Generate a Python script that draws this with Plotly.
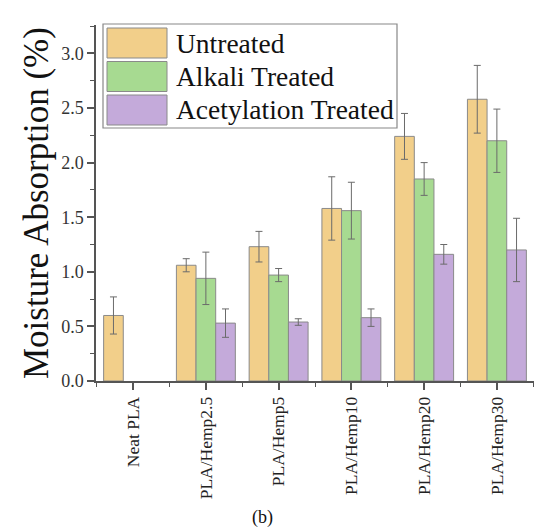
import plotly.graph_objects as go

categories = ["Neat PLA", "PLA/Hemp2.5", "PLA/Hemp5", "PLA/Hemp10", "PLA/Hemp20", "PLA/Hemp30"]
series_names = ["Untreated", "Alkali Treated", "Acetylation Treated"]
untreated = [0.60, 1.06, 1.23, 1.58, 2.24, 2.58]
untreated_err = [0.17, 0.06, 0.14, 0.29, 0.21, 0.31]
alkali = [None, 0.94, 0.97, 1.56, 1.85, 2.20]
alkali_err = [None, 0.24, 0.06, 0.26, 0.15, 0.29]
acetyl = [None, 0.53, 0.54, 0.58, 1.16, 1.20]
acetyl_err = [None, 0.13, 0.03, 0.08, 0.09, 0.29]
colors = ["#F2CF8A", "#A7DA91", "#C4AADA"]
yticks = [0.0, 0.5, 1.0, 1.5, 2.0, 2.5, 3.0]

W, H = 534, 531
L, R, T, B = 96, 534, 25, 381
FONT = "Liberation Serif, Times New Roman, serif"

def px_x(p):
    return (p - L) / (R - L)

def px_y(p):
    return (B - p) / (B - T)

xs = list(range(len(categories)))
fig = go.Figure()
for name, vals, errs, col in zip(series_names, [untreated, alkali, acetyl],
                                 [untreated_err, alkali_err, acetyl_err], colors):
    fig.add_trace(go.Bar(
        x=xs, y=vals, name=name,
        marker=dict(color=col, line=dict(color="#8a8a8a", width=1)),
        error_y=dict(type="data", array=errs, color="#6b6b6b", thickness=1, width=3.5, visible=True),
        showlegend=False,
    ))

fig.update_layout(
    width=W, height=H,
    margin=dict(l=L, r=W - R, t=T, b=H - B, pad=0),
    paper_bgcolor="white", plot_bgcolor="white",
    barmode="group", bargap=0.19, bargroupgap=0,
    font=dict(family=FONT, color="#222"),
)
fig.update_xaxes(
    range=[-0.51, 5.51], showgrid=False, zeroline=False,
    showline=True, linecolor="#555", linewidth=1.5,
    tickmode="array", tickvals=xs, ticktext=categories, tickangle=-90,
    ticks="outside", ticklen=7, tickcolor="#555", tickwidth=1.5,
    tickfont=dict(family=FONT, size=17.5, color="#222"),
    minor=dict(tickmode="linear", tick0=0.5, dtick=1, ticks="outside", ticklen=4, tickcolor="#555", tickwidth=1.2),
)
fig.update_yaxes(
    range=[0, 3.26], showgrid=False, zeroline=False,
    showline=True, linecolor="#555", linewidth=1.5,
    tickmode="array", tickvals=yticks, tickformat=".1f",
    ticks="outside", ticklen=7, tickcolor="#555", tickwidth=1.5,
    tickfont=dict(family=FONT, size=18, color="#333"),
    minor=dict(tickmode="linear", tick0=0, dtick=0.25, ticks="outside", ticklen=4, tickcolor="#555", tickwidth=1.2),
)

# y-axis title
fig.add_annotation(text="Moisture Absorption (%)", xref="paper", yref="paper",
                   x=px_x(36), y=px_y(203), textangle=-90, showarrow=False,
                   xanchor="center", yanchor="middle",
                   font=dict(family=FONT, size=35, color="#111"))
# caption
fig.add_annotation(text="(b)", xref="paper", yref="paper", x=px_x(262), y=px_y(517),
                   showarrow=False, xanchor="center", yanchor="middle",
                   font=dict(family=FONT, size=18, color="#111"))

# custom legend
fig.add_shape(type="rect", xref="paper", yref="paper",
              x0=px_x(103), x1=px_x(397), y0=px_y(128), y1=px_y(24),
              line=dict(color="#888", width=1.2), fillcolor="white", layer="above")
sw_tops = [28, 61.5, 95]
for name, col, top in zip(series_names, colors, sw_tops):
    fig.add_shape(type="rect", xref="paper", yref="paper",
                  x0=px_x(107), x1=px_x(167), y0=px_y(top + 30), y1=px_y(top),
                  line=dict(color="#8a8a8a", width=1), fillcolor=col, layer="above")
    fig.add_annotation(text=name, xref="paper", yref="paper", x=px_x(174), y=px_y(top + 15),
                       showarrow=False, xanchor="left", yanchor="middle",
                       font=dict(family=FONT, size=27.5, color="#111"))

fig.write_html("out.html")
